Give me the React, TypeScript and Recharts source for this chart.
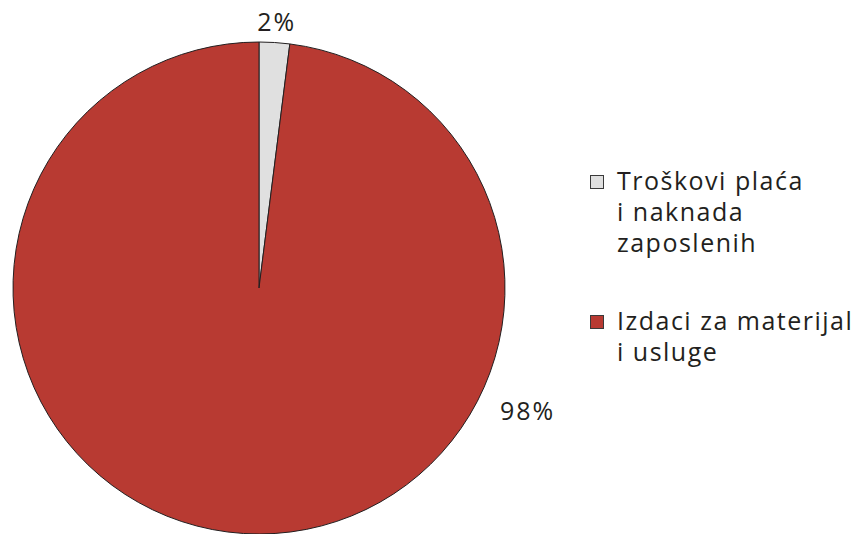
import React from "react";
import { PieChart, Pie, Cell, Legend } from "recharts";

const categoryLines: string[][] = [
  ["Troškovi plaća", "i naknada", "zaposlenih"],
  ["Izdaci za materijal", "i usluge"],
];
const categories: string[] = categoryLines.map((l) => l.join(" "));
const values: number[] = [2, 98];
const valueLabels: string[] = ["2%", "98%"];
const colors: string[] = ["#e0e0e0", "#b83a32"];

const data = categories.map((name, i) => ({ name, value: values[i] }));

const FONT = "'Open Sans', sans-serif";
const TEXT = "#231f20";

const CX = 259;
const CY = 288;
const R = 246;

// label placement (angle in degrees, radius) for each slice
const labelPlacement = [
  { angle: 86.2, radius: 268 },
  { angle: -24.4, radius: 295 },
];

const renderLabel = (props: any) => {
  const { index, cx, cy } = props;
  const p = labelPlacement[index];
  const rad = (p.angle * Math.PI) / 180;
  const x = cx + p.radius * Math.cos(rad);
  const y = cy - p.radius * Math.sin(rad);
  return (
    <text
      x={x}
      y={y}
      textAnchor="middle"
      dominantBaseline="central"
      fill={TEXT}
      fontFamily={FONT}
      fontSize={25}
      letterSpacing={2}
    >
      {valueLabels[index]}
    </text>
  );
};

const renderLegend = () => (
  <div style={{ fontFamily: FONT, fontSize: 25, color: TEXT, lineHeight: "31px", letterSpacing: "1.5px" }}>
    {categoryLines.map((lines, i) => (
      <div key={i} style={{ display: "flex", alignItems: "flex-start", marginBottom: i === 0 ? 47 : 0 }}>
        <div
          style={{
            width: 12,
            height: 12,
            marginTop: 10,
            marginRight: 13,
            background: colors[i],
            border: "1px solid #3a3a3a",
            flexShrink: 0,
          }}
        />
        <div>
          {lines.map((l, j) => (
            <div key={j} style={{ whiteSpace: "nowrap" }}>{l}</div>
          ))}
        </div>
      </div>
    ))}
  </div>
);

export default function App() {
  return (
    <div style={{ position: "absolute", left: 0, top: 0, width: 858, height: 534, background: "#fff" }}>
      <PieChart width={858} height={534} margin={{ top: 0, right: 0, bottom: 0, left: 0 }}>
        <Pie
          data={data}
          dataKey="value"
          nameKey="name"
          cx={CX}
          cy={CY}
          outerRadius={R}
          startAngle={90}
          endAngle={-270}
          stroke="#231f20"
          strokeWidth={1}
          label={renderLabel}
          labelLine={false}
          isAnimationActive={false}
        >
          {data.map((_, i) => (
            <Cell key={i} fill={colors[i]} />
          ))}
        </Pie>
        <Legend
          content={renderLegend}
          wrapperStyle={{ position: "absolute", left: 590, top: 165, width: 268 }}
        />
      </PieChart>
    </div>
  );
}
